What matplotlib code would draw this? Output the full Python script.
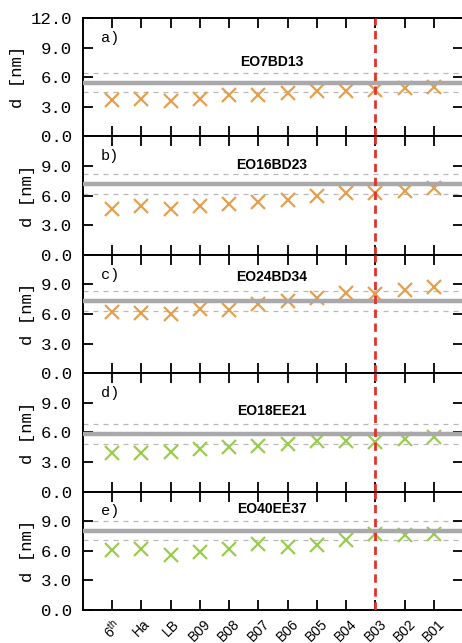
import matplotlib
matplotlib.use("Agg")
import matplotlib.pyplot as plt
from matplotlib.axes import Axes

# categories along x
stations = [r"$\mathregular{6^{th}}$", "Ha", "LB", "B09", "B08", "B07",
            "B06", "B05", "B04", "B03", "B02", "B01"]

# d [nm] per panel
d_eo7bd13 = [3.73, 3.83, 3.56, 3.83, 4.16, 4.23, 4.40, 4.64, 4.64, 4.74, 4.91, 5.01]
d_eo16bd23 = [4.67, 4.90, 4.67, 4.90, 5.17, 5.40, 5.60, 5.93, 6.27, 6.23, 6.50, 6.77]
d_eo24bd34 = [6.17, 6.10, 6.00, 6.50, 6.43, 7.00, 7.33, 7.67, 8.10, 8.07, 8.43, 8.77]
d_eo18ee21 = [3.96, 3.89, 4.06, 4.33, 4.56, 4.67, 4.83, 5.17, 5.17, 5.07, 5.35, 5.50]
d_eo40ee37 = [6.05, 6.22, 5.54, 5.88, 6.15, 6.65, 6.38, 6.55, 7.06, 7.73, 7.56, 7.66]

names = ["EO7BD13", "EO16BD23", "EO24BD34", "EO18EE21", "EO40EE37"]
letters = ["a)", "b)", "c)", "d)", "e)"]
ref_mean = [5.45, 7.15, 7.30, 5.85, 8.05]
ref_spread = [1.0, 1.0, 1.0, 1.0, 1.0]
marker_station = 9  # B03

series = [d_eo7bd13, d_eo16bd23, d_eo24bd34, d_eo18ee21, d_eo40ee37]
colors = ["#E3A04E", "#E3A04E", "#E3A04E", "#9ACD4E", "#9ACD4E"]
title_y = [7.5, 9.1, 9.7, 8.2, 10.2]

mono = "Liberation Mono"

fig, axs = plt.subplots(5, 1, figsize=(4.62, 6.43), dpi=100, sharex=True)
fig.subplots_adjust(left=83 / 462, right=463 / 462, top=1 - 18 / 643,
                    bottom=33 / 643, hspace=0)

x = list(range(len(stations)))
for i, ax in enumerate(axs):
    ax: Axes
    ax.plot(x, series[i], linestyle="none", marker="x", markersize=9.5,
            markeredgewidth=1.6, color=colors[i], zorder=2)
    ax.axhline(ref_mean[i], color="#A9A9AC", linewidth=3.2, zorder=3)
    for s in (-1, 1):
        ax.axhline(ref_mean[i] + s * ref_spread[i], color="#B8B8B8",
                   linewidth=0.9, dashes=(4, 4), zorder=1)
    ax.axvline(marker_station, color="#E2322B", linewidth=2.0,
               dashes=(3, 2), zorder=4)

    ax.text(5.45, title_y[i], names[i], ha="center", va="center",
            fontsize=10, fontweight="bold", family="Liberation Sans")
    ax.text(-0.4, 10.0, letters[i], ha="left", va="center",
            fontsize=11, family=mono)

    ax.set_xlim(-1, 12)
    ax.set_ylim(0, 12)
    ax.set_yticks([0, 3, 6, 9, 12] if i == 0 else [0, 3, 6, 9])
    ax.set_yticklabels(["0.0", "3.0", "6.0", "9.0", "12.0"][:len(ax.get_yticks())],
                       family=mono, fontsize=12.5)
    ax.set_ylabel("d [nm]", family=mono, fontsize=12.5, labelpad=4)
    ax.tick_params(direction="in", length=7, width=1.3, top=True, right=True,
                   pad=8)
    for sp in ax.spines.values():
        sp.set_linewidth(1.4)

axs[-1].set_xticks(x)
axs[-1].set_xticklabels(stations, rotation=45, ha="center",
                        family="Liberation Sans", fontsize=10)
axs[-1].tick_params(axis="x", pad=5)

fig.savefig("out.png", dpi=100)
